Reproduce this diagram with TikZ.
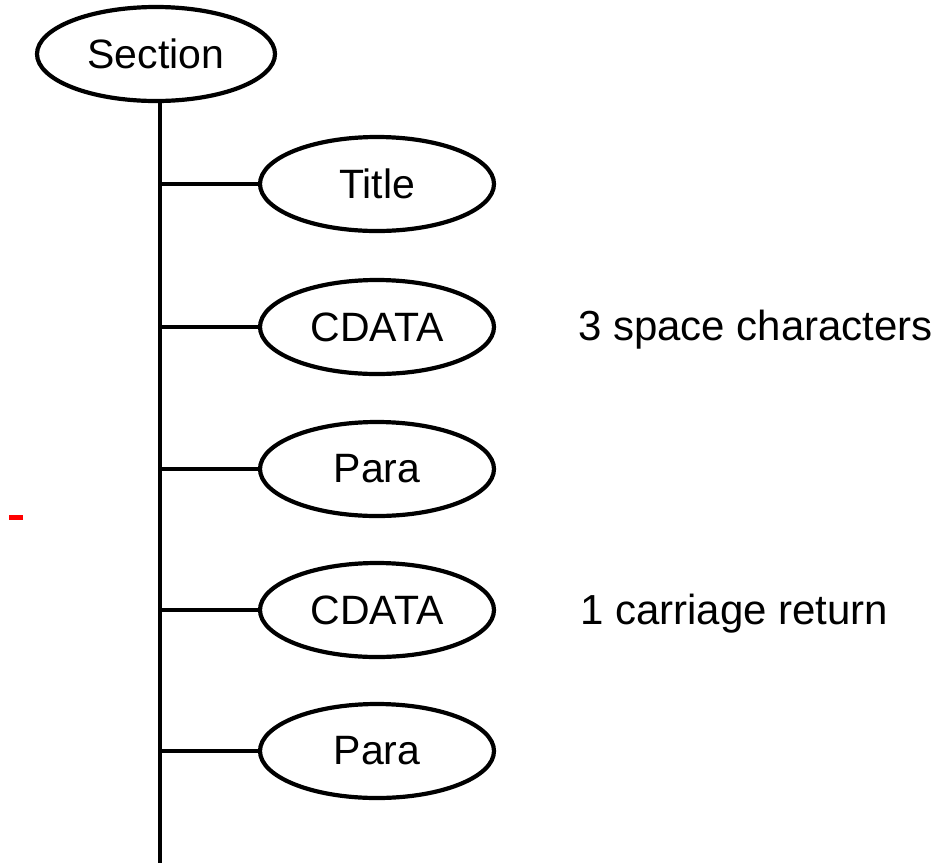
\documentclass[tikz,border=0pt]{standalone}
\usepackage{fontspec}
\setmainfont{Liberation Sans}
\usetikzlibrary{shapes.geometric}
\begin{document}
\begin{tikzpicture}[x=1pt,y=-1pt,
  elem/.style={draw=black, line width=4.2pt, ellipse, inner sep=0pt,
    minimum width=234pt, minimum height=94pt, font=\fontsize{41}{41}\selectfont},
  branch/.style={draw=black, line width=4.8pt},
  note/.style={anchor=base west, inner sep=0pt, font=\fontsize{42}{42}\selectfont}]
  \useasboundingbox (0,0) rectangle (942,863);

  % root element
  \node[elem, minimum width=238pt] (sec) at (156,54) {Section};

  % child elements
  \node[elem] (title) at (377,184) {Title};
  \node[elem] (cd1)   at (377,327) {CDATA};
  \node[elem] (p1)    at (377,469) {Para};
  \node[elem] (cd2)   at (377,610) {CDATA};
  \node[elem] (p2)    at (377,751) {Para};

  % spine running down from the root
  \coordinate (top) at (160,101);
  \coordinate (bot) at (160,863);
  \draw[branch] (top) -- (bot);

  % branches to each child
  \foreach \n in {title,cd1,p1,cd2,p2}
    \draw[branch] (\n.west -| top) -- (\n.west);

  % side notes
  \node[note] (n1) at (578,340) {3 space characters};
  \node[note] (n2) at (580,624) {1 carriage return};

  % red mark at the left
  \fill[red] (9,515) rectangle (23,520);
\end{tikzpicture}
\end{document}
